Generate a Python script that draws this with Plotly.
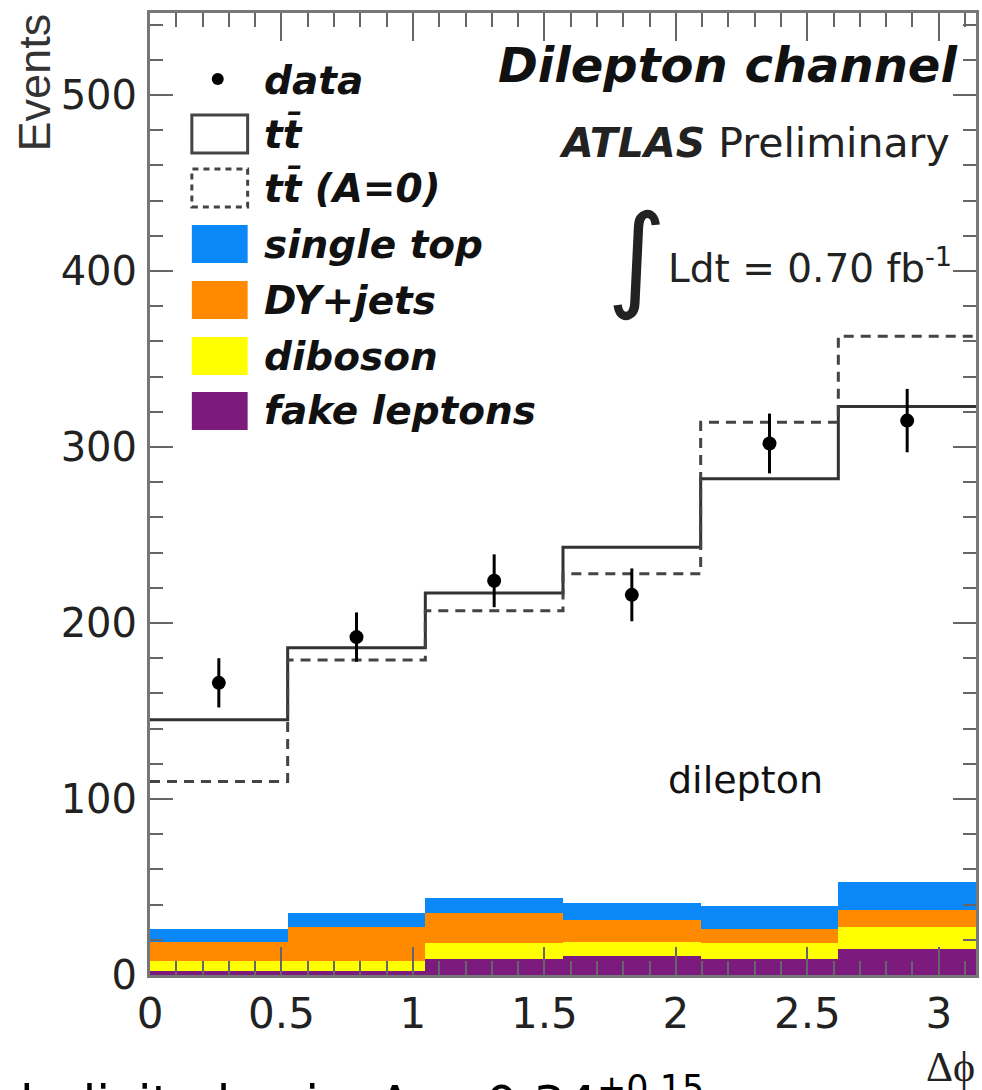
import numpy as np
import plotly.graph_objects as go

# ---------------- data ----------------
n_bins = 6
bin_edges = [i * np.pi / n_bins for i in range(n_bins + 1)]
bin_centers = [(bin_edges[i] + bin_edges[i + 1]) / 2 for i in range(n_bins)]

tt_total = [145, 186, 217, 243, 282, 323]          # solid tt (stacked total)
tt_A0 = [110, 179, 207, 228, 314, 363]             # dashed tt (A=0)
data_vals = [166, 192, 224, 216, 302, 315]
data_err = [14, 14, 15, 15, 17, 18]

bkg_fake = [2, 2, 9, 11, 9, 15]
bkg_diboson = [6, 6, 9, 8, 9, 12]
bkg_dy = [11, 19, 17, 12, 8, 10]
bkg_single_top = [7, 8, 9, 10, 13, 16]

legend_labels = ["data", "tt\u0304", "tt\u0304 (A=0)", "single top", "DY+jets", "diboson", "fake leptons"]
y_ticks = [0, 100, 200, 300, 400, 500]
x_ticks = [0, 0.5, 1, 1.5, 2, 2.5, 3]

# ---------------- geometry helpers ----------------
W, H = 982, 1090
L, R, T, B = 150, 979, 13, 975


def px(x):
    return (x - L) / (R - L)


def py(y):
    return (B - y) / (B - T)


BLUE = "#0a88f8"
ORANGE = "#ff8a00"
YELLOW = "#ffff00"
PURPLE = "#7d1a7e"

fig = go.Figure()

bin_w = np.pi / n_bins
for vals, col in [(bkg_fake, PURPLE), (bkg_diboson, YELLOW), (bkg_dy, ORANGE), (bkg_single_top, BLUE)]:
    fig.add_trace(go.Bar(x=bin_centers, y=vals, width=[bin_w] * n_bins,
                         marker=dict(color=col, line=dict(width=0)),
                         showlegend=False, hoverinfo="skip"))

step_x = list(bin_edges)
fig.add_trace(go.Scatter(x=step_x, y=tt_total + [tt_total[-1]], mode="lines",
                         line=dict(shape="hv", color="#333333", width=3),
                         showlegend=False, hoverinfo="skip"))
fig.add_trace(go.Scatter(x=step_x, y=tt_A0 + [tt_A0[-1]], mode="lines",
                         line=dict(shape="hv", color="#444444", width=3, dash="10px,7px"),
                         showlegend=False, hoverinfo="skip"))
fig.add_trace(go.Scatter(x=bin_centers, y=data_vals, mode="markers",
                         marker=dict(color="black", size=14),
                         error_y=dict(type="data", array=data_err, color="black", thickness=3, width=0),
                         showlegend=False, hoverinfo="skip"))

# ---------------- legend (manual) ----------------
shapes = []
ann = []
box_x0, box_x1 = 192, 248
leg_y = [80, 134, 188, 244, 300, 356, 411]
# data dot
shapes.append(dict(type="circle", xref="paper", yref="paper",
                   x0=px(212), x1=px(224), y0=py(85), y1=py(73),
                   fillcolor="black", line=dict(width=0)))
# tt solid box
shapes.append(dict(type="rect", xref="paper", yref="paper",
                   x0=px(box_x0), x1=px(box_x1), y0=py(leg_y[1] + 19), y1=py(leg_y[1] - 19),
                   line=dict(color="#444444", width=3), fillcolor="rgba(0,0,0,0)"))
shapes.append(dict(type="rect", xref="paper", yref="paper",
                   x0=px(box_x0), x1=px(box_x1), y0=py(leg_y[2] + 19), y1=py(leg_y[2] - 19),
                   line=dict(color="#444444", width=3, dash="6px,5px"), fillcolor="rgba(0,0,0,0)"))
for yy, col in zip(leg_y[3:], [BLUE, ORANGE, YELLOW, PURPLE]):
    shapes.append(dict(type="rect", xref="paper", yref="paper",
                       x0=px(box_x0), x1=px(box_x1), y0=py(yy + 19), y1=py(yy - 19),
                       line=dict(width=0), fillcolor=col))

leg_font = dict(family="DejaVu Sans", size=39, color="#111111", weight="bold", style="italic")
for lab, yy in zip(legend_labels, leg_y):
    ann.append(dict(text=lab, x=px(262), y=py(yy), xref="paper", yref="paper",
                    xanchor="left", yanchor="middle", showarrow=False, font=leg_font))

# ---------------- other texts ----------------
ann.append(dict(text="Dilepton channel", x=px(962), y=py(65), xref="paper", yref="paper",
                xanchor="right", yanchor="middle", showarrow=False,
                font=dict(family="DejaVu Sans", size=48, color="#111111", weight="bold", style="italic")))
ann.append(dict(text="<b><i>ATLAS</i></b> Preliminary", x=px(955), y=py(143), xref="paper", yref="paper",
                xanchor="right", yanchor="middle", showarrow=False,
                font=dict(family="DejaVu Sans", size=41, color="#222222")))
ann.append(dict(text="Ldt = 0.70 fb<sup>-1</sup>", x=px(668), y=py(266), xref="paper", yref="paper",
                xanchor="left", yanchor="middle", showarrow=False,
                font=dict(family="DejaVu Sans", size=39, color="#222222")))
ann.append(dict(text="\u222b", x=px(638), y=py(256), xref="paper", yref="paper",
                xanchor="center", yanchor="middle", showarrow=False,
                font=dict(family="DejaVu Sans", size=114, color="#222222", weight="normal")))
ann.append(dict(text="dilepton", x=px(668), y=py(780), xref="paper", yref="paper",
                xanchor="left", yanchor="middle", showarrow=False,
                font=dict(family="DejaVu Sans", size=38, color="#111111")))
ann.append(dict(text="\u0394\u03d5", x=px(980), y=py(1067), xref="paper", yref="paper",
                xanchor="right", yanchor="middle", showarrow=False,
                font=dict(family="Liberation Serif", size=42, color="#222222")))
ann.append(dict(text="Events", x=px(35), y=py(82), xref="paper", yref="paper",
                xanchor="center", yanchor="middle", showarrow=False, textangle=-90,
                font=dict(family="Liberation Sans", size=45, color="#333333")))
ann.append(dict(text="helicity basis: A = 0.34<sup>+0.15</sup>", x=px(18), y=py(1100), xref="paper", yref="paper",
                xanchor="left", yanchor="middle", showarrow=False,
                font=dict(family="DejaVu Sans", size=50, color="black")))

axis_common = dict(showgrid=False, zeroline=False, showline=True, linecolor="#777777", linewidth=3,
                   mirror="ticks", ticks="inside", tickcolor="#666666", tickwidth=2)

fig.update_layout(
    width=W, height=H,
    margin=dict(l=L, r=W - R, t=T, b=H - B, pad=0),
    paper_bgcolor="white", plot_bgcolor="white",
    barmode="stack", bargap=0,
    shapes=shapes, annotations=ann,
    xaxis=dict(range=[0, np.pi], tickmode="array", tickvals=x_ticks,
               ticktext=[("%g" % v) for v in x_ticks], ticklen=28,
               minor=dict(dtick=0.1, tick0=0, ticklen=14, tickcolor="#666666", tickwidth=2, ticks="inside"),
               tickfont=dict(family="DejaVu Sans", size=42, color="#222222"),
               ticklabelstandoff=0, **axis_common),
    yaxis=dict(range=[0, 546.6], tickmode="array", tickvals=y_ticks,
               ticktext=[str(v) for v in y_ticks], ticklen=23,
               minor=dict(dtick=20, tick0=0, ticklen=13, tickcolor="#666666", tickwidth=2, ticks="inside"),
               tickfont=dict(family="DejaVu Sans", size=40, color="#222222"),
               ticklabelstandoff=2, **axis_common),
)

fig.write_html("out.html", post_script="document.body.style.margin='0';",
               config={"displayModeBar": False})
